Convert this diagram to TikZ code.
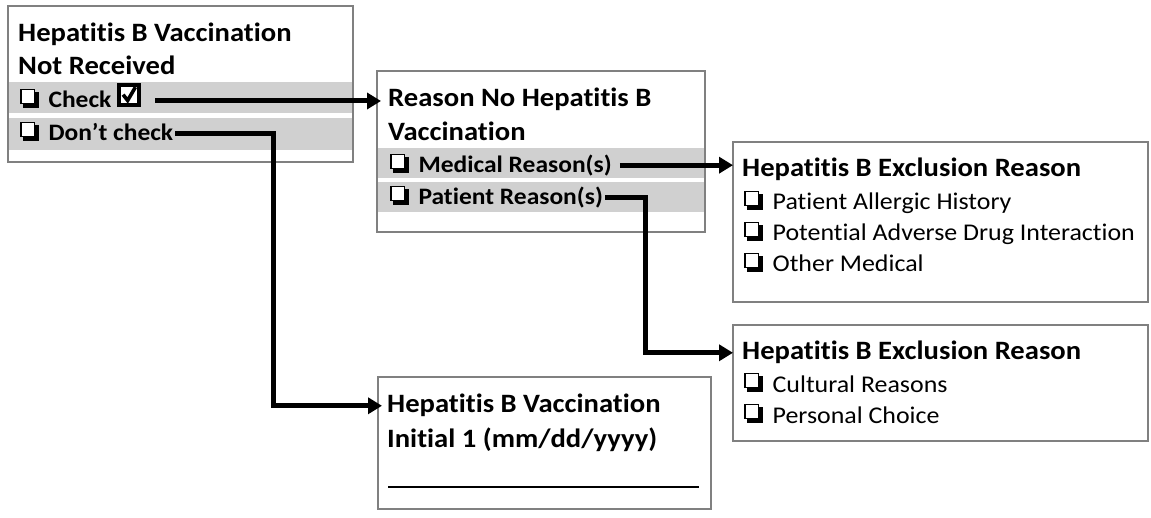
\documentclass[tikz,border=0pt]{standalone}
\usepackage{fontspec}
\setmainfont[FakeStretch=1.08, Ligatures=NoCommon]{Carlito}
\usetikzlibrary{arrows.meta}
\definecolor{boxgray}{HTML}{808080}
\definecolor{bandgray}{HTML}{D0D0D0}
\newcommand{\cbx}{\tikz[x=1.25pt,y=1.25pt,baseline=0pt]{\fill[black] (2.5,0) rectangle (15,13); \draw[line width=1.4pt, fill=white] (0.7,3.7) rectangle (11.8,14.8);}\hspace{4pt}}
\newcommand{\cbc}{\tikz[x=1.3pt,y=1.3pt,baseline=-1pt]{\draw[line width=4pt, fill=white] (1.8,1.8) rectangle (17.2,17.2); \draw[line width=3.6pt, line join=miter] (4.8,9.5) -- (8.3,5) -- (14.3,15.3);}}
\begin{document}
\begin{tikzpicture}[x=1pt,y=-1pt,
  box/.style={draw=boxgray, line width=1.6pt, anchor=north west, inner sep=0, outer sep=0},
  band/.style={fill=bandgray},
  ttl/.style={anchor=base west, inner sep=0, font=\fontsize{26.5}{33}\selectfont\bfseries},
  rowt/.style={anchor=base west, inner sep=0, font=\fontsize{23.6}{30}\selectfont\bfseries},
  itm/.style={anchor=base west, inner sep=0, font=\fontsize{24}{30}\selectfont},
  arr/.style={line width=5pt, -{Triangle[length=14pt,width=16pt]}}
]
\fill[white] (0,0) rectangle (1151,518);
\useasboundingbox (0,0) rectangle (1151,518);
% bands
\fill[band] (8,82) rectangle (353,113);
\fill[band] (8,118) rectangle (353,150);
\fill[band] (377,148) rectangle (705,178);
\fill[band] (377,182) rectangle (705,212);
% boxes
\node[box, minimum width=345pt, minimum height=156pt] (b1) at (8,6) {};
\node[box, minimum width=328pt, minimum height=161pt] (b2) at (377,71) {};
\node[box, minimum width=415pt, minimum height=160pt] (b3) at (733,142) {};
\node[box, minimum width=415pt, minimum height=116pt] (b4) at (733,325) {};
\node[box, minimum width=333pt, minimum height=132pt] (b5) at (378,377) {};
% box 1
\node[ttl] (t1a) at (18,42) {Hepatitis B Vaccination};
\node[ttl] (t1b) at (18,75) {Not Received};
\node[rowt] (chk) at (20,108) {\cbx\ Check \cbc};
\node[rowt] (dck) at (20,141) {\cbx\ Don’t check};
% box 2
\node[ttl] (t2a) at (388,107) {Reason No Hepatitis B};
\node[ttl] (t2b) at (388,141) {Vaccination};
\node[rowt] (med) at (390,173) {\cbx\ Medical Reason(s)};
\node[rowt] (pat) at (390,205) {\cbx\ Patient Reason(s)};
% box 3
\node[ttl] (t3) at (742,177) {Hepatitis B Exclusion Reason};
\node[itm] (i3a) at (744,210) {\cbx\ Patient Allergic History};
\node[itm] (i3b) at (744,241) {\cbx\ Potential Adverse Drug Interaction};
\node[itm] (i3c) at (744,272) {\cbx\ Other Medical};
% box 4
\node[ttl] (t4) at (742,360) {Hepatitis B Exclusion Reason};
\node[itm] (i4a) at (744,392) {\cbx\ Cultural Reasons};
\node[itm] (i4b) at (744,423) {\cbx\ Personal Choice};
% box 5
\node[ttl] (t5a) at (387,413) {Hepatitis B Vaccination};
\node[ttl] (t5b) at (387,447) {Initial 1 (mm/dd/yyyy)};
\coordinate (u1) at (388,487);
\coordinate (u2) at (699,487);
\draw[line width=1.5pt] (u1) -- (u2);
% connectors
\coordinate (k2) at (273,0);
\coordinate (k4) at (645,0);
\draw[arr] ([xshift=14pt]chk.east |- 0,101) -- ([xshift=4pt]b2.west |- 0,101);
\draw[arr] ([xshift=2pt]dck.east |- 0,134) -- (k2 |- 0,134) -- (k2 |- t5a.west) -- ([xshift=4pt]t5a.west -| b5.west);
\draw[arr] ([xshift=8pt]med.east) -- (med.east -| b3.west);
\draw[arr] ([xshift=2pt]pat.east) -- (pat.east -| k4) -- (k4 |- t4.west) -- (t4.west -| b4.west);
\end{tikzpicture}
\end{document}
